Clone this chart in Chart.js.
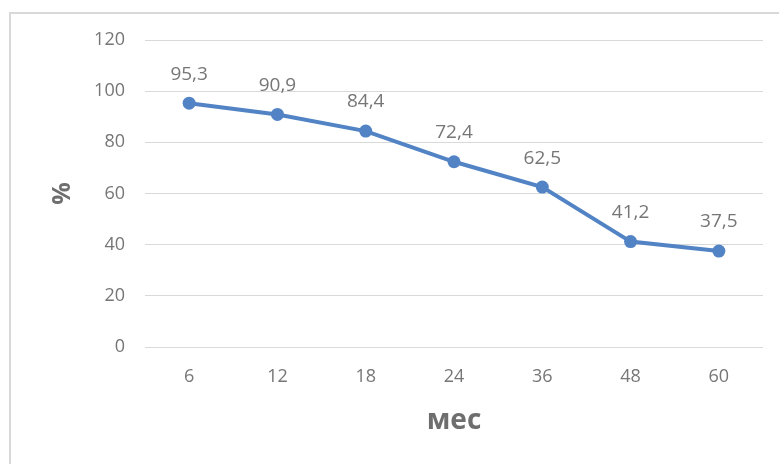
<!DOCTYPE html>
<html>
<head>
<meta charset="utf-8">
<script src="https://cdn.jsdelivr.net/npm/chart.js@4.4.1/dist/chart.umd.min.js"></script>
<style>
  html, body { margin:0; padding:0; background:#fff; }
  #wrap { position:relative; width:779px; height:464px; }
  #frame { position:absolute; left:9px; top:12px; right:0; bottom:0; border-left:2px solid #d9d9d9; border-top:2px solid #d9d9d9; pointer-events:none; }
  canvas { position:absolute; left:0; top:0; }
</style>
</head>
<body>
<div id="wrap">
  <canvas id="chart" width="779" height="464"></canvas>
  <div id="frame"></div>
</div>
<script>
// --- Data ---
const months = ['6', '12', '18', '24', '36', '48', '60'];
const survival = [95.3, 90.9, 84.4, 72.4, 62.5, 41.2, 37.5];
const yTicks = [0, 20, 40, 60, 80, 100, 120];

const textGray = '#767676';
const lineBlue = '#5283c4';

// value labels above each point (comma decimal)
const pointLabels = {
  id: 'pointLabels',
  afterDatasetsDraw(chart){
    const {ctx} = chart;
    const meta = chart.getDatasetMeta(0);
    ctx.save();
    ctx.font = '19px "Open Sans"';
    ctx.fillStyle = textGray;
    ctx.textAlign = 'center';
    ctx.textBaseline = 'middle';
    meta.data.forEach((pt, i) => {
      ctx.fillText(String(survival[i]).replace('.', ','), pt.x, pt.y - 29);
    });
    ctx.restore();
  }
};

new Chart(document.getElementById('chart'), {
  type: 'line',
  data: {
    labels: months,
    datasets: [{
      data: survival,
      borderColor: lineBlue,
      backgroundColor: lineBlue,
      borderWidth: 4,
      pointRadius: 6.5,
      pointHoverRadius: 6.5,
      pointBorderWidth: 0,
      tension: 0,
      fill: false
    }]
  },
  options: {
    responsive: false,
    animation: false,
    layout: { padding: { top: 40, right: 16, left: 0, bottom: 0 } },
    plugins: { legend: { display:false }, tooltip: { enabled:false } },
    scales: {
      x: {
        offset: true,
        grid: { display:false },
        border: { display:false },
        ticks: { color: textGray, font: { family:'Open Sans', size:18 }, padding: 11 },
        title: { display:true, text:'мес', color:'#6e6e6e', font:{ family:'Open Sans', size:28, weight:'bold' }, padding:{ top:26, bottom:26 } },
        afterFit(s){ s.height = 117; }
      },
      y: {
        min: 0, max: 120,
        afterBuildTicks(s){ s.ticks = yTicks.map(v => ({ value: v })); },
        grid: { color:'#d9d9d9', lineWidth:1, drawTicks:false },
        border: { display:false },
        ticks: { color: textGray, font: { family:'Open Sans', size:18 }, padding: 20 },
        title: { display:true, text:'%', color:'#6e6e6e', font:{ family:'Open Sans', size:25, weight:'bold' }, padding:{ top:48, bottom:48 } },
        afterFit(s){ s.width = 145; }
      }
    }
  },
  plugins: [pointLabels]
});
</script>
</body>
</html>
